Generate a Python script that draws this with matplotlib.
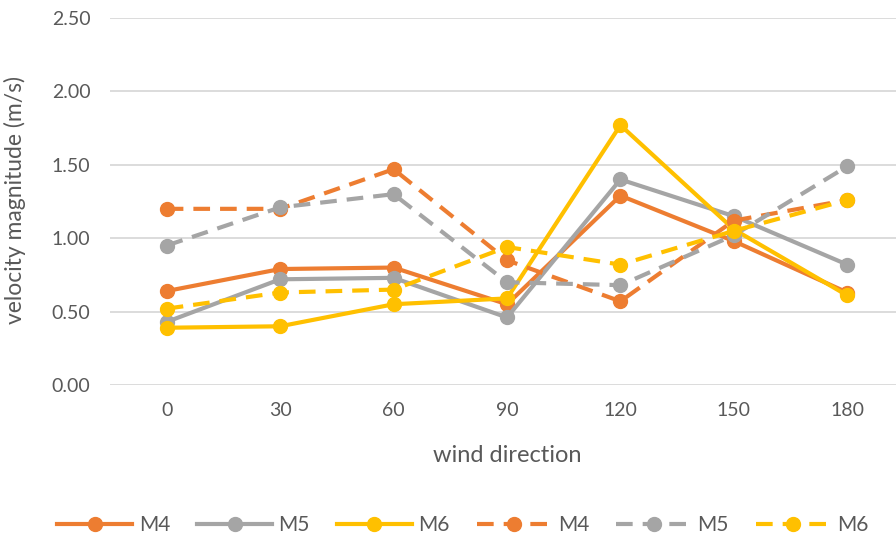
import matplotlib.pyplot as plt
import numpy as np

plt.rcParams['font.family'] = ['Lato', 'DejaVu Sans']

directions = ['0', '30', '60', '90', '120', '150', '180']
m4_solid = [0.64, 0.79, 0.80, 0.55, 1.29, 0.98, 0.63]
m5_solid = [0.43, 0.72, 0.73, 0.46, 1.40, 1.15, 0.82]
m6_solid = [0.39, 0.40, 0.55, 0.59, 1.77, 1.06, 0.61]
m4_dash = [1.20, 1.20, 1.47, 0.85, 0.57, 1.12, 1.26]
m5_dash = [0.95, 1.21, 1.30, 0.70, 0.68, 1.02, 1.49]
m6_dash = [0.52, 0.63, 0.65, 0.94, 0.82, 1.05, 1.26]
labels = ['M4', 'M5', 'M6', 'M4', 'M5', 'M6']

orange = '#ED7D31'
gray = '#A5A5A5'
yellow = '#FFC000'
txt = '#595959'

fig = plt.figure(figsize=(8.96, 5.43), dpi=100)
ax = fig.add_axes([110/896, 158/543, 794/896, 367/543])

x = np.arange(len(directions))
series = [(m4_solid, orange, '-'), (m5_solid, gray, '-'), (m6_solid, yellow, '-'),
          (m4_dash, orange, '--'), (m5_dash, gray, '--'), (m6_dash, yellow, '--')]
handles = []
for (vals, col, ls), lab in zip(series, labels):
    kw = dict(color=col, lw=3, marker='o', markersize=10, label=lab)
    if ls == '--':
        kw['dashes'] = (4, 2.4)
    line, = ax.plot(x, vals, **kw)
    handles.append(line)

ax.set_xlim(-0.5, 6.5)
ax.set_ylim(0, 2.5)
ax.set_yticks(np.arange(0, 2.51, 0.5))
ax.set_yticklabels(['%.2f' % v for v in np.arange(0, 2.51, 0.5)])
ax.set_xticks(x)
ax.set_xticklabels(directions)
ax.grid(axis='y', color='#D9D9D9', lw=1.3)
ax.set_axisbelow(True)
for s in ax.spines.values():
    s.set_visible(False)
ax.tick_params(length=0, labelsize=14, colors=txt, pad=14)
ax.tick_params(axis='x', pad=12)

fig.text(15/896, 1 - 200/543, 'velocity magnitude (m/s)', fontsize=16.5, color=txt,
         rotation=90, ha='center', va='center')
fig.text(507/896, 1 - 456/543, 'wind direction', fontsize=17, color=txt, ha='center', va='center')

fig.legend(handles=handles, loc='center', bbox_to_anchor=(463/896, 1 - 525/543),
           ncol=6, frameon=False, fontsize=15, handlelength=3.6, handletextpad=0.3,
           columnspacing=1.3, labelcolor=txt)

fig.savefig('out.png', dpi=100)
